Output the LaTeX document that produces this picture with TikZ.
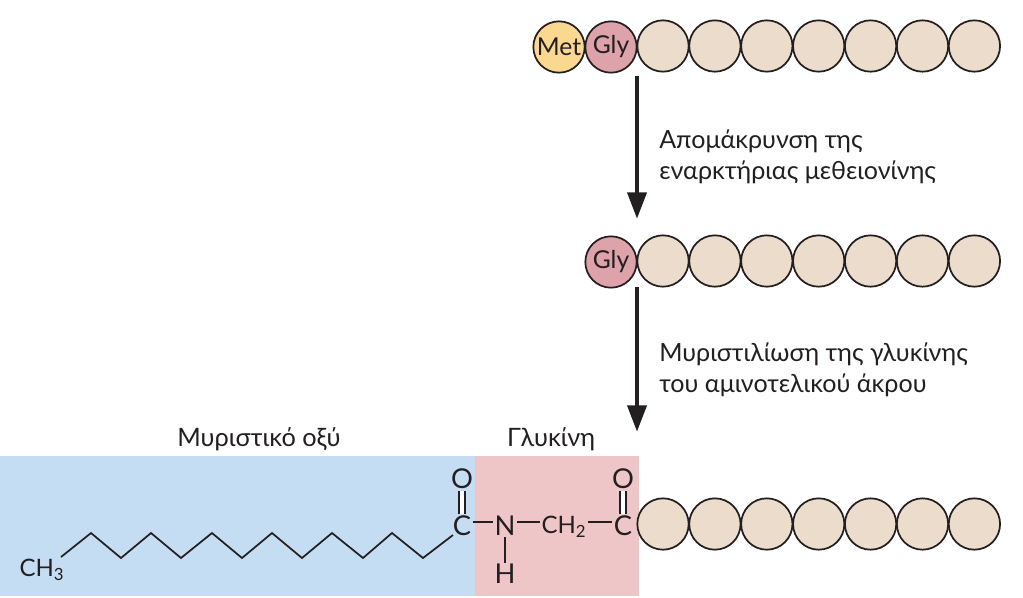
\documentclass[tikz,border=0pt]{standalone}
\usepackage{fontspec}
\usepackage{xcolor}
\setmainfont{Lato}
\usetikzlibrary{arrows.meta, positioning, calc}
\definecolor{inkdark}{RGB}{35, 31, 32}
\definecolor{metfill}{RGB}{251, 216, 143}
\definecolor{glyfill}{RGB}{222, 163, 170}
\definecolor{beadfill}{RGB}{236, 220, 204}
\definecolor{fattyblue}{RGB}{197, 221, 243}
\definecolor{glypink}{RGB}{238, 198, 200}
\tikzset{
    bead/.style = {circle, draw=inkdark, line width=1.3pt, fill=beadfill, minimum size=38.5pt, inner sep=0pt, font=\fontsize{18.5}{18.5}\selectfont, text=inkdark},
    metbead/.style = {bead, fill=metfill},
    glybead/.style = {bead, fill=glyfill},
    steplabel/.style = {right, align=left, inner sep=0pt, text=inkdark, font=\fontsize{18.8}{23}\selectfont},
    title/.style = {inner sep=0pt, text=inkdark, font=\fontsize{19}{20}\selectfont},
    group/.style = {inner sep=1pt, text=inkdark, font=\fontsize{18}{18}\selectfont},
    atom/.style = {inner sep=1pt, text=inkdark, font=\fontsize{20.5}{20.5}\selectfont},
    bond/.style = {draw=inkdark, line width=1.3pt},
    arrow/.style = {draw=inkdark, line width=3.6pt, -{Triangle[length=20pt, width=14pt]}}
}
\begin{document}
\begin{tikzpicture}[x=0.75pt, y=-0.75pt]
\useasboundingbox (0,0) rectangle (1023,597);

% Background blocks
\fill[fattyblue] (0,456) rectangle (475,596);
\fill[glypink] (475,456) rectangle (639,596);

% Chains
\node (met) [metbead] at (559,47) {Met};
\node (glyA) [glybead] at (611,47) {Gly};
\node (glyB) [glybead] at (611,262) {Gly};
\foreach \i in {0,...,6} {
    \node (a\i) [bead] at ({663+51.9*\i},46) {};
    \node (b\i) [bead] at ({663+51.9*\i},261) {};
    \node (c\i) [bead] at ({663+51.9*\i},524) {};
}

% Arrows
\coordinate (topA) at (637,76);
\coordinate (endA) at (637,219);
\coordinate (topB) at (637,287);
\coordinate (endB) at (637,432);
\draw [arrow] (topA) -- (endA);
\draw [arrow] (topB) -- (endB);

% Labels
\node (stepA) [steplabel] at (659,157) {Απομάκρυνση της\\εναρκτήριας μεθειονίνης};
\node (stepB) [steplabel] at (659,370) {Μυριστιλίωση της γλυκίνης\\του αμινοτελικού άκρου};
\node (myr) [title] at (259,439) {Μυριστικό οξύ};
\node (gly) [title] at (551,439) {Γλυκίνη};

% Formula
\node (ch3) [group] at (42,570) {CH\textsubscript{3}};
\node (cA) [atom] at (462,526) {C};
\node (oA) [atom] at (462,479) {O};
\node (n) [atom] at (505,526) {N};
\node (h) [atom] at (505,574) {H};
\node (ch2) [group] at (564,527) {CH\textsubscript{2}};
\node (cB) [atom] at (623,526) {C};
\node (oB) [atom] at (623,479) {O};

\coordinate (chainA) at (61,557);
\coordinate (chainB) at (453,535);
\draw [bond] (chainA) \foreach \x/\y in {91/533,121/558,151/533,181/558,212/533,242/558,272/533,302/558,332/533,363/558,392/533,423/558} { -- (\x,\y) } -- (chainB);
\draw [bond] ($(cA.east)+(0,-4)$) -- ($(n.west)+(0,-4)$);
\draw [bond] ($(n.east)+(0,-4)$) -- ($(ch2.west)+(0,-5)$);
\draw [bond] ($(ch2.east)+(0,-5)$) -- ($(cB.west)+(0,-4)$);
\draw [bond] (n) -- (h);
\draw [bond, double, double distance=3.5pt] (cA) -- (oA);
\draw [bond, double, double distance=3.5pt] (cB) -- (oB);

\end{tikzpicture}
\end{document}
